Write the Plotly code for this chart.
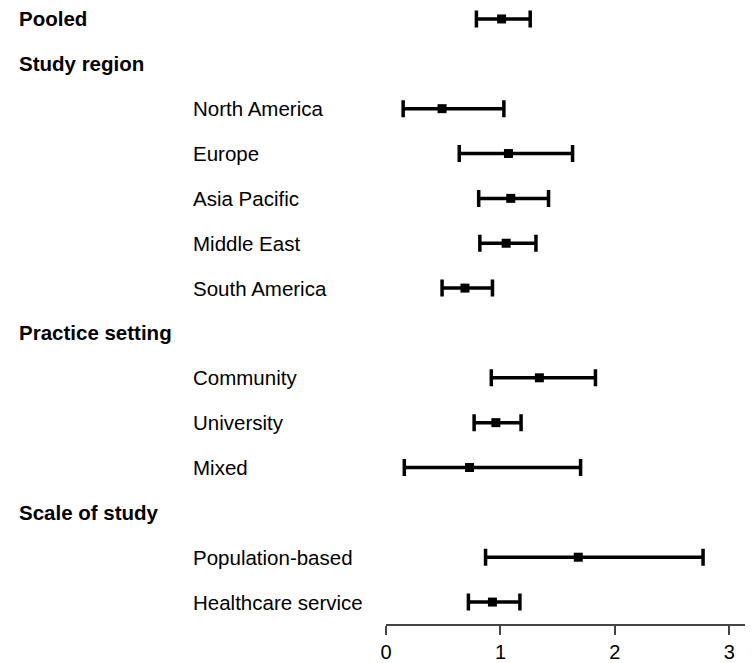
import plotly.graph_objects as go

# Rows (top to bottom); headers have no estimate
row_labels = ["Pooled", "Study region", "North America", "Europe", "Asia Pacific",
              "Middle East", "South America", "Practice setting", "Community",
              "University", "Mixed", "Scale of study", "Population-based",
              "Healthcare service"]
row_is_header = [True, True, False, False, False, False, False, True, False,
                 False, False, True, False, False]
estimate = [1.01, None, 0.49, 1.07, 1.09, 1.05, 0.69, None, 1.34, 0.96, 0.73, None, 1.68, 0.93]
lower    = [0.79, None, 0.15, 0.64, 0.81, 0.82, 0.49, None, 0.92, 0.77, 0.16, None, 0.87, 0.72]
upper    = [1.26, None, 1.03, 1.63, 1.42, 1.31, 0.93, None, 1.83, 1.18, 1.70, None, 2.77, 1.17]
x_ticks = [0, 1, 2, 3]

# page body has an 8px margin, so the figure is sized to fit the window
OFF = 8
W, H = 753 - OFF, 663 - OFF
FONT = "Liberation Sans, Arial, sans-serif"

ys, xs, ep, em = [], [], [], []
for i, (e, lo, up) in enumerate(zip(estimate, lower, upper)):
    if e is None:
        continue
    ys.append(-i)
    xs.append(e)
    ep.append(up - e)
    em.append(e - lo)

fig = go.Figure()
fig.add_trace(go.Scatter(
    x=xs, y=ys, mode="markers",
    marker=dict(symbol="square", size=9, color="black"),
    error_x=dict(type="data", symmetric=False, array=ep, arrayminus=em,
                 color="black", thickness=3.5, width=8.5),
    showlegend=False, hoverinfo="skip",
))

annotations = []
for i, (lab, hd) in enumerate(zip(row_labels, row_is_header)):
    annotations.append(dict(
        x=((18 if hd else 193) - OFF) / W, xref="paper", y=-i, yref="y",
        text=f"<b>{lab}</b>" if hd else lab, showarrow=False,
        xanchor="left", yanchor="middle", xshift=-7,
        font=dict(family=FONT, size=20.5, color="black"),
    ))

x0_px = 384 - OFF - 1
x_scale = 115.4  # px per unit
x_max = (W - x0_px) / x_scale

row0_px = 19 - OFF
axis_px = 626 - OFF
row_step = 45

fig.update_layout(
    width=W, height=H,
    margin=dict(l=0, r=0, t=0, b=H - axis_px),
    paper_bgcolor="white", plot_bgcolor="white",
    annotations=annotations,
    xaxis=dict(domain=[x0_px / W, 1], range=[0, x_max],
               tickvals=x_ticks, ticktext=[str(t) for t in x_ticks],
               showgrid=False, zeroline=False, showline=True,
               linecolor="#444", linewidth=1.5,
               ticks="outside", ticklen=9, tickwidth=1.5, tickcolor="#444",
               tickfont=dict(family=FONT, size=20, color="black")),
    yaxis=dict(range=[row0_px / row_step - axis_px / row_step, row0_px / row_step],
               visible=False, showgrid=False, zeroline=False),
)

fig.write_html("out.html")
